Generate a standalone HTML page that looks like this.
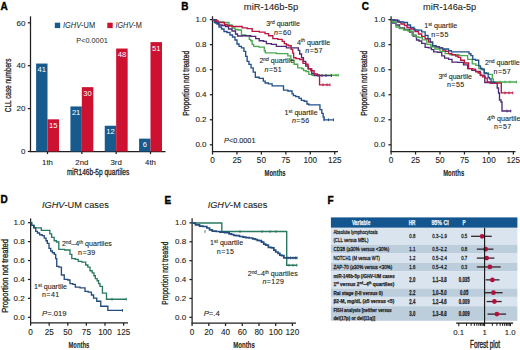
<!DOCTYPE html>
<html><head><meta charset="utf-8"><style>
html,body{margin:0;padding:0;background:#fff;width:520px;height:350px;overflow:hidden}
svg{display:block;font-family:"Liberation Sans", sans-serif}
text:not([stroke])[fill="#231f20"]{stroke:#231f20;stroke-width:0.1px}
</style></head><body>
<svg width="520" height="350" viewBox="0 0 520 350">
<text x="0.5" y="9.8" font-size="10" font-weight="bold" fill="#000" stroke="#000" stroke-width="0.35">A</text>
<line x1="30.5" y1="16.3" x2="30.5" y2="152.0" stroke="#231f20" stroke-width="1.25"/>
<line x1="30.0" y1="151.5" x2="165.5" y2="151.5" stroke="#231f20" stroke-width="1.25"/>
<line x1="27.8" y1="151.5" x2="30.5" y2="151.5" stroke="#231f20" stroke-width="1.25"/>
<text x="25.5" y="154.2" font-size="8" text-anchor="end" fill="#231f20">0</text>
<line x1="27.8" y1="108.6" x2="30.5" y2="108.6" stroke="#231f20" stroke-width="1.25"/>
<text x="25.5" y="111.3" font-size="8" text-anchor="end" fill="#231f20">20</text>
<line x1="27.8" y1="65.7" x2="30.5" y2="65.7" stroke="#231f20" stroke-width="1.25"/>
<text x="25.5" y="68.4" font-size="8" text-anchor="end" fill="#231f20">40</text>
<line x1="27.8" y1="22.80" x2="30.5" y2="22.80" stroke="#231f20" stroke-width="1.25"/>
<text x="25.5" y="25.50" font-size="8" text-anchor="end" fill="#231f20">60</text>
<rect x="36.1" y="63.55" width="11.4" height="87.94" fill="#175a8e"/>
<rect x="47.5" y="119.32" width="11.5" height="32.17" fill="#cc1131"/>
<text x="41.80" y="72.25" font-size="7.6" text-anchor="middle" fill="#fff">41</text>
<text x="53.25" y="128.02" font-size="7.6" text-anchor="middle" fill="#fff">15</text>
<line x1="47.5" y1="151.5" x2="47.5" y2="154.1" stroke="#231f20" stroke-width="1.25"/>
<text x="47.5" y="164.8" font-size="7.8" text-anchor="middle" fill="#231f20">1th</text>
<rect x="70.42" y="106.45" width="11.4" height="45.04" fill="#175a8e"/>
<rect x="81.83" y="87.15" width="11.5" height="64.35" fill="#cc1131"/>
<text x="76.13" y="115.15" font-size="7.6" text-anchor="middle" fill="#fff">21</text>
<text x="87.58" y="95.85" font-size="7.6" text-anchor="middle" fill="#fff">30</text>
<line x1="81.83" y1="151.5" x2="81.83" y2="154.1" stroke="#231f20" stroke-width="1.25"/>
<text x="81.83" y="164.8" font-size="7.8" text-anchor="middle" fill="#231f20">2nd</text>
<rect x="104.75" y="125.75" width="11.4" height="25.74" fill="#175a8e"/>
<rect x="116.16" y="48.53" width="11.5" height="102.96" fill="#cc1131"/>
<text x="110.46" y="134.45" font-size="7.6" text-anchor="middle" fill="#fff">12</text>
<text x="121.91" y="57.23" font-size="7.6" text-anchor="middle" fill="#fff">48</text>
<line x1="116.16" y1="151.5" x2="116.16" y2="154.1" stroke="#231f20" stroke-width="1.25"/>
<text x="116.16" y="164.8" font-size="7.8" text-anchor="middle" fill="#231f20">3rd</text>
<rect x="139.09" y="138.63" width="11.4" height="12.87" fill="#175a8e"/>
<rect x="150.49" y="42.10" width="11.5" height="109.39" fill="#cc1131"/>
<text x="144.79" y="147.32" font-size="7.6" text-anchor="middle" fill="#fff">6</text>
<text x="156.24" y="50.80" font-size="7.6" text-anchor="middle" fill="#fff">51</text>
<line x1="150.49" y1="151.5" x2="150.49" y2="154.1" stroke="#231f20" stroke-width="1.25"/>
<text x="150.49" y="164.8" font-size="7.8" text-anchor="middle" fill="#231f20">4th</text>
<text x="66.9" y="175.4" font-size="8.8" textLength="62.4" lengthAdjust="spacingAndGlyphs" fill="#231f20" stroke="#231f20" stroke-width="0.3">miR146b-5p quartiles</text>
<text transform="translate(11.3,85.4) rotate(-90)" font-size="9.2" text-anchor="middle" stroke="#231f20" stroke-width="0.3" textLength="53.5" lengthAdjust="spacingAndGlyphs" fill="#231f20">CLL case numbers</text>
<rect x="54.8" y="22.7" width="5.4" height="5.4" fill="#175a8e"/>
<text x="62.9" y="28.3" stroke="none" font-size="8.4" textLength="32.3" lengthAdjust="spacingAndGlyphs" fill="#231f20"><tspan font-style="italic">IGHV</tspan>-UM</text>
<rect x="107.3" y="22.7" width="5.4" height="5.4" fill="#cc1131"/>
<text x="115.4" y="28.3" stroke="none" font-size="8.4" textLength="26.4" lengthAdjust="spacingAndGlyphs" fill="#231f20"><tspan font-style="italic">IGHV</tspan>-M</text>
<text x="76.3" y="42.8" font-size="7.6" textLength="31.5" lengthAdjust="spacingAndGlyphs" fill="#231f20" stroke="none">P&lt;0.0001</text>
<text x="181.3" y="9.8" font-size="10" font-weight="bold" fill="#000" stroke="#000" stroke-width="0.35">B</text>
<text x="243.8" y="10.2" font-size="9.2" textLength="54.4" lengthAdjust="spacingAndGlyphs" fill="#231f20">miR-146b-5p</text>
<line x1="212.5" y1="16.2" x2="212.5" y2="152.1" stroke="#231f20" stroke-width="1.25"/>
<line x1="212.0" y1="151.6" x2="338" y2="151.6" stroke="#231f20" stroke-width="1.25"/>
<line x1="209.8" y1="19.6" x2="212.5" y2="19.6" stroke="#231f20" stroke-width="1.25"/>
<text x="206.5" y="21.90" font-size="8" text-anchor="end" fill="#231f20">1.0</text>
<line x1="209.8" y1="44.64" x2="212.5" y2="44.64" stroke="#231f20" stroke-width="1.25"/>
<text x="206.5" y="46.94" font-size="8" text-anchor="end" fill="#231f20">0.8</text>
<line x1="209.8" y1="69.68" x2="212.5" y2="69.68" stroke="#231f20" stroke-width="1.25"/>
<text x="206.5" y="71.98" font-size="8" text-anchor="end" fill="#231f20">0.6</text>
<line x1="209.8" y1="94.72" x2="212.5" y2="94.72" stroke="#231f20" stroke-width="1.25"/>
<text x="206.5" y="97.02" font-size="8" text-anchor="end" fill="#231f20">0.4</text>
<line x1="209.8" y1="119.76" x2="212.5" y2="119.76" stroke="#231f20" stroke-width="1.25"/>
<text x="206.5" y="122.06" font-size="8" text-anchor="end" fill="#231f20">0.2</text>
<line x1="209.8" y1="144.8" x2="212.5" y2="144.8" stroke="#231f20" stroke-width="1.25"/>
<text x="206.5" y="147.10" font-size="8" text-anchor="end" fill="#231f20">0.0</text>
<line x1="212.5" y1="151.6" x2="212.5" y2="154.5" stroke="#231f20" stroke-width="1.25"/>
<text x="212.5" y="163.3" font-size="8.2" text-anchor="middle" fill="#231f20">0</text>
<line x1="236.95" y1="151.6" x2="236.95" y2="154.5" stroke="#231f20" stroke-width="1.25"/>
<text x="236.95" y="163.3" font-size="8.2" text-anchor="middle" fill="#231f20">25</text>
<line x1="261.4" y1="151.6" x2="261.4" y2="154.5" stroke="#231f20" stroke-width="1.25"/>
<text x="261.4" y="163.3" font-size="8.2" text-anchor="middle" fill="#231f20">50</text>
<line x1="285.85" y1="151.6" x2="285.85" y2="154.5" stroke="#231f20" stroke-width="1.25"/>
<text x="285.85" y="163.3" font-size="8.2" text-anchor="middle" fill="#231f20">75</text>
<line x1="310.3" y1="151.6" x2="310.3" y2="154.5" stroke="#231f20" stroke-width="1.25"/>
<text x="310.3" y="163.3" font-size="8.2" text-anchor="middle" fill="#231f20">100</text>
<line x1="334.75" y1="151.6" x2="334.75" y2="154.5" stroke="#231f20" stroke-width="1.25"/>
<text x="334.75" y="163.3" font-size="8.2" text-anchor="middle" fill="#231f20">125</text>
<text transform="translate(188.6,83.3) rotate(-90)" font-size="8.6" text-anchor="middle" textLength="65" lengthAdjust="spacingAndGlyphs" fill="#231f20" stroke="#231f20" stroke-width="0.3">Proportion not treated</text>
<text x="264.6" y="176.3" font-size="9.3" font-weight="bold" textLength="21" lengthAdjust="spacingAndGlyphs" fill="#231f20">Months</text>
<path d="M212.5,19.6 H215.75 V22 H219 H223.5 V22.5 H228 H229.0 V25 H230 H232.0 V28 H234 H235.0 V29.5 H236 H238.0 V30 H240 H241.45 V35 H242.9 H245.75 V35.7 H248.6 H249.3 V39.3 H250 H250.7 V40.7 H251.4 H252.15 V44.3 H252.9 H253.6 V46.4 H254.3 H258.95 V47.1 H263.6 H264.3 V50.7 H265 H265.35 V52.9 H265.7 H276.4 V53.6 H287.1 H287.85 V55.9 H288.6 H290.9 V60.5 H293.2 H294.15 V64.2 H295.1 H297.75 V67.8 H300.4 H301.8 V68.7 H303.2 H303.65 V70.6 H304.1 H306.0 V71.5 H307.9 H308.8 V74.3 H309.7 H312.05 V75.2 H314.4 H326.45 V75.2 H338.5" fill="none" stroke="#49aa50" stroke-width="1.35" stroke-linejoin="miter"/>
<path d="M212.5,19.6 H214.25 V22 H216 H217.0 V24 H218 H219.0 V25 H220 H222.0 V25.5 H224 H225.5 V26.5 H227 H228.5 V29 H230 H232.0 V31 H234 H235.5 V34 H237 H237.5 V36 H238 H242.55 V35.7 H247.1 H250.7 V36.4 H254.3 H255.7 V38.6 H257.1 H259.25 V40.7 H261.4 H263.55 V41.4 H265.7 H266.4 V43.6 H267.1 H271.4 V44.3 H275.7 H276.4 V46.4 H277.1 H281.4 V46.4 H285.7 H286.4 V47.9 H287.1 H292.5 V47.9 H297.9 H298.35 V50.3 H298.8 H299.7 V54 H300.6 H301.55 V57.7 H302.5 H303.45 V61.4 H304.4 H305.75 V66.1 H307.1 H308.5 V68.9 H309.9 H311.75 V73.5 H313.6 H314.55 V75.6 H315.5 H323.75 V75.6 H332" fill="none" stroke="#4e2a76" stroke-width="1.35" stroke-linejoin="miter"/>
<path d="M212.5,19.6 H214.25 V19.6 H216 H216.75 V21 H217.5 H218.25 V22.5 H219 H221.0 V22.5 H223 H224.5 V24.5 H226 H227.25 V25.5 H228.5 H229.25 V26 H230 H232.5 V26.5 H235 H237.5 V26.5 H240 H242.15 V27.9 H244.3 H247.15 V28.6 H250 H252.15 V31.4 H254.3 H259.3 V32.1 H264.3 H265.0 V33.6 H265.7 H268.55 V35.7 H271.4 H272.85 V38.6 H274.3 H277.85 V39.3 H281.4 H282.15 V41.4 H282.9 H284.3 V43.6 H285.7 H286.4 V45 H287.1 H288.55 V45.7 H290 H291.15 V49.4 H292.3 H292.75 V53.1 H293.2 H293.65 V57.7 H294.1 H296.0 V58.6 H297.9 H299.75 V59.6 H301.6 H303.0 V63.3 H304.4 H305.75 V64.2 H307.1 H308.05 V68.9 H309 H310.85 V70.7 H312.7 H314.1 V74 H315.5 H317.35 V75 H319.2 H319.55 V84.8 H319.9 H325.0 V84.8 H330.1" fill="none" stroke="#bb1640" stroke-width="1.35" stroke-linejoin="miter"/>
<path d="M212.5,19.6 H215.25 V23 H218 H219.0 V27 H220 H221.5 V29 H223 H224.0 V31.5 H225 H227.0 V32.5 H229 H230.0 V35 H231 H232.5 V37 H234 H235.0 V40 H236 H237.0 V44 H238 H239.0 V46.4 H240 H241.45 V47.9 H242.9 H243.95 V51.4 H245 H245.7 V56.4 H246.4 H247.15 V61.4 H247.9 H248.95 V64.3 H250 H251.05 V67.9 H252.1 H253.2 V72.1 H254.3 H255.35 V77.2 H256.4 H259.15 V78.4 H261.9 H263.3 V81.1 H264.7 H265.15 V83 H265.6 H268.4 V83.9 H271.2 H272.15 V85.8 H273.1 H277.75 V85.8 H282.4 H283.5 V90.1 H284.6 H287.85 V91 H291.1 H292.05 V93.8 H293 H293.45 V95.6 H293.9 H295.75 V96.6 H297.6 H299.0 V98.4 H300.4 H301.35 V100.3 H302.3 H304.15 V101.2 H306 H306.95 V104 H307.9 H308.8 V104.9 H309.7 H314.35 V104.9 H319 H319.95 V109.6 H320.9 H321.8 V113.3 H322.7 H323.15 V117 H323.6 H324.1 V119.8 H324.6 H329.25 V119.8 H333.9" fill="none" stroke="#23508a" stroke-width="1.35" stroke-linejoin="miter"/>
<line x1="324" y1="118.39" x2="324" y2="121.2" stroke="#23508a" stroke-width="0.9"/>
<line x1="328.5" y1="118.39" x2="328.5" y2="121.2" stroke="#23508a" stroke-width="0.9"/>
<line x1="333.5" y1="118.39" x2="333.5" y2="121.2" stroke="#23508a" stroke-width="0.9"/>
<line x1="326" y1="73.8" x2="326" y2="76.60" stroke="#49aa50" stroke-width="0.9"/>
<line x1="331" y1="73.8" x2="331" y2="76.60" stroke="#49aa50" stroke-width="0.9"/>
<line x1="336" y1="73.8" x2="336" y2="76.60" stroke="#49aa50" stroke-width="0.9"/>
<line x1="338.3" y1="73.8" x2="338.3" y2="76.60" stroke="#49aa50" stroke-width="0.9"/>
<line x1="318" y1="74.19" x2="318" y2="77.0" stroke="#4e2a76" stroke-width="0.9"/>
<line x1="322" y1="74.19" x2="322" y2="77.0" stroke="#4e2a76" stroke-width="0.9"/>
<line x1="326" y1="74.19" x2="326" y2="77.0" stroke="#4e2a76" stroke-width="0.9"/>
<line x1="331.5" y1="74.19" x2="331.5" y2="77.0" stroke="#4e2a76" stroke-width="0.9"/>
<line x1="323" y1="83.39" x2="323" y2="86.2" stroke="#bb1640" stroke-width="0.9"/>
<line x1="327" y1="83.39" x2="327" y2="86.2" stroke="#bb1640" stroke-width="0.9"/>
<line x1="330" y1="83.39" x2="330" y2="86.2" stroke="#bb1640" stroke-width="0.9"/>
<text x="266.3" y="26.2" font-size="7.1" fill="#231f20">3<tspan font-size="4.97" dy="-2.4">rd</tspan><tspan dy="2.4"> quartile</tspan></text>
<text x="274" y="35" font-size="7.1" textLength="17.2" lengthAdjust="spacing" fill="#231f20"><tspan font-style="italic">n</tspan>=60</text>
<text x="296.9" y="44.7" font-size="7.1" fill="#231f20">4<tspan font-size="4.97" dy="-2.4">th</tspan><tspan dy="2.4"> quartile</tspan></text>
<text x="305.3" y="53" font-size="7.1" textLength="17.2" lengthAdjust="spacing" fill="#231f20"><tspan font-style="italic">n</tspan>=57</text>
<text x="259.4" y="63" font-size="7.1" fill="#231f20">2<tspan font-size="4.97" dy="-2.4">nd</tspan><tspan dy="2.4"> quartile</tspan></text>
<text x="264.6" y="71.6" font-size="7.1" textLength="17.2" lengthAdjust="spacing" fill="#231f20"><tspan font-style="italic">n</tspan>=51</text>
<text x="284.6" y="115.1" font-size="7.1" fill="#231f20">1<tspan font-size="4.97" dy="-2.4">st</tspan><tspan dy="2.4"> quartile</tspan></text>
<text x="292" y="122.6" font-size="7.1" textLength="17.2" lengthAdjust="spacing" fill="#231f20"><tspan font-style="italic">n</tspan>=56</text>
<text x="224" y="143" font-size="7.3" fill="#231f20"><tspan font-style="italic">P</tspan>&lt;0.0001</text>
<text x="361.8" y="9.8" font-size="10" font-weight="bold" fill="#000" stroke="#000" stroke-width="0.35">C</text>
<text x="423.1" y="10.2" font-size="9.2" textLength="53.1" lengthAdjust="spacingAndGlyphs" fill="#231f20">miR-146a-5p</text>
<line x1="391.1" y1="16.2" x2="391.1" y2="152.1" stroke="#231f20" stroke-width="1.25"/>
<line x1="390.6" y1="151.6" x2="515.5" y2="151.6" stroke="#231f20" stroke-width="1.25"/>
<line x1="388.40" y1="19.6" x2="391.1" y2="19.6" stroke="#231f20" stroke-width="1.25"/>
<text x="385.1" y="21.90" font-size="8" text-anchor="end" fill="#231f20">1.0</text>
<line x1="388.40" y1="44.64" x2="391.1" y2="44.64" stroke="#231f20" stroke-width="1.25"/>
<text x="385.1" y="46.94" font-size="8" text-anchor="end" fill="#231f20">0.8</text>
<line x1="388.40" y1="69.68" x2="391.1" y2="69.68" stroke="#231f20" stroke-width="1.25"/>
<text x="385.1" y="71.98" font-size="8" text-anchor="end" fill="#231f20">0.6</text>
<line x1="388.40" y1="94.72" x2="391.1" y2="94.72" stroke="#231f20" stroke-width="1.25"/>
<text x="385.1" y="97.02" font-size="8" text-anchor="end" fill="#231f20">0.4</text>
<line x1="388.40" y1="119.76" x2="391.1" y2="119.76" stroke="#231f20" stroke-width="1.25"/>
<text x="385.1" y="122.06" font-size="8" text-anchor="end" fill="#231f20">0.2</text>
<line x1="388.40" y1="144.8" x2="391.1" y2="144.8" stroke="#231f20" stroke-width="1.25"/>
<text x="385.1" y="147.10" font-size="8" text-anchor="end" fill="#231f20">0.0</text>
<line x1="391.1" y1="151.6" x2="391.1" y2="154.5" stroke="#231f20" stroke-width="1.25"/>
<text x="391.1" y="163.3" font-size="8.2" text-anchor="middle" fill="#231f20">0</text>
<line x1="415.55" y1="151.6" x2="415.55" y2="154.5" stroke="#231f20" stroke-width="1.25"/>
<text x="415.55" y="163.3" font-size="8.2" text-anchor="middle" fill="#231f20">25</text>
<line x1="440.0" y1="151.6" x2="440.0" y2="154.5" stroke="#231f20" stroke-width="1.25"/>
<text x="440.0" y="163.3" font-size="8.2" text-anchor="middle" fill="#231f20">50</text>
<line x1="464.45" y1="151.6" x2="464.45" y2="154.5" stroke="#231f20" stroke-width="1.25"/>
<text x="464.45" y="163.3" font-size="8.2" text-anchor="middle" fill="#231f20">75</text>
<line x1="488.90" y1="151.6" x2="488.90" y2="154.5" stroke="#231f20" stroke-width="1.25"/>
<text x="488.90" y="163.3" font-size="8.2" text-anchor="middle" fill="#231f20">100</text>
<line x1="513.35" y1="151.6" x2="513.35" y2="154.5" stroke="#231f20" stroke-width="1.25"/>
<text x="513.35" y="163.3" font-size="8.2" text-anchor="middle" fill="#231f20">125</text>
<text transform="translate(367.3,83.3) rotate(-90)" font-size="8.6" text-anchor="middle" textLength="65" lengthAdjust="spacingAndGlyphs" fill="#231f20" stroke="#231f20" stroke-width="0.3">Proportion not treated</text>
<text x="443.2" y="176.3" font-size="9.3" font-weight="bold" textLength="21" lengthAdjust="spacingAndGlyphs" fill="#231f20">Months</text>
<path d="M391,19.6 H392.5 V23 H394 H396.0 V25 H398 H399.5 V28 H401 H404.5 V29.5 H408 H409.5 V32 H411 H413.0 V36 H415 H416.5 V40 H418 H419.0 V41 H420 H421.7 V43.3 H423.4 H425.15 V47.3 H426.9 H428.6 V47.9 H430.3 H431.45 V49.6 H432.6 H433.75 V51.9 H434.9 H437.75 V52.4 H440.6 H441.75 V55.9 H442.9 H444.6 V58.1 H446.3 H448.6 V59.3 H450.9 H452.0 V62.1 H453.1 H457.6 V62.3 H462.1 H463.5 V64.9 H464.9 H467.65 V68.6 H470.4 H471.8 V70.4 H473.2 H475.55 V71.4 H477.9 H480.2 V75.1 H482.5 H484.8 V82.5 H487.1 H491.75 V83 H496.4 H497.2 V88 H498 H498.5 V93 H499 H499.5 V100 H500 H501.0 V102 H502 H502.0 V111 H502 H506.5 V111 H511" fill="none" stroke="#4e2a76" stroke-width="1.35" stroke-linejoin="miter"/>
<path d="M391,19.6 H392.5 V22 H394 H396.0 V27 H398 H399.5 V28.5 H401 H403.5 V30 H406 H408.0 V31 H410 H412.0 V35 H414 H416.0 V37 H418 H419.0 V37.6 H420 H422.3 V39.9 H424.6 H426.85 V44.4 H429.1 H430.85 V46.7 H432.6 H434.85 V49 H437.1 H440.0 V51.3 H442.9 H445.15 V53.6 H447.4 H450.25 V54.7 H453.1 H459.0 V55.6 H464.9 H467.65 V59.3 H470.4 H472.25 V63.9 H474.1 H475.85 V65.3 H477.6 H478.85 V68.5 H480.1 H481.4 V69.8 H482.7 H484.0 V73 H485.3 H488.5 V74.3 H491.7 H492.35 V78.8 H493 H493.3 V82 H493.6 H505.2 V82 H516.8" fill="none" stroke="#49aa50" stroke-width="1.35" stroke-linejoin="miter"/>
<path d="M391,19.6 H393.5 V20 H396 H397.5 V22 H399 H401.0 V24 H403 H404.5 V25.5 H406 H407.0 V27.5 H408 H410.5 V29 H413 H415.0 V31.5 H417 H418.5 V34 H420 H421.7 V36.4 H423.4 H425.15 V38.7 H426.9 H428.6 V42.1 H430.3 H432.6 V45.6 H434.9 H436.0 V46.7 H437.1 H439.4 V47.9 H441.7 H442.85 V50.1 H444 H445.7 V51.3 H447.4 H448.55 V53.6 H449.7 H452.0 V54.7 H454.3 H455.65 V56 H457 H458.15 V57.4 H459.3 H460.7 V60.2 H462.1 H464.4 V63 H466.7 H468.55 V68.6 H470.4 H472.7 V69.1 H475 H475.65 V71.7 H476.3 H478.2 V73 H480.1 H480.75 V75.6 H481.4 H482.7 V76.9 H484 H485.3 V78.1 H486.6 H487.25 V82 H487.9 H489.8 V83 H491.7 H496.5 V83 H501.3 H501.3 V92.9 H501.3 H507.1 V92.9 H512.9" fill="none" stroke="#bb1640" stroke-width="1.35" stroke-linejoin="miter"/>
<path d="M391,19.6 H394.0 V20.5 H397 H399.0 V22 H401 H403.5 V22.5 H406 H407.5 V25 H409 H410.5 V27.5 H412 H414.0 V30 H416 H418.0 V30.1 H420 H421.7 V31.9 H423.4 H425.15 V35.3 H426.9 H428.0 V38.7 H429.1 H430.25 V42.1 H431.4 H432.55 V45.6 H433.7 H436.0 V46.7 H438.3 H439.45 V47.9 H440.6 H442.3 V49 H444 H445.7 V49 H447.4 H448.55 V50.7 H449.7 H451.4 V51.9 H453.1 H460.85 V51.9 H468.6 H469.05 V53.7 H469.5 H470.9 V55.6 H472.3 H472.75 V59.3 H473.2 H475.55 V60.2 H477.9 H478.7 V65.9 H479.5 H480.45 V68.5 H481.4 H482.7 V69.1 H484 H484.3 V73 H484.6 H486.25 V73.6 H487.9 H488.2 V77.5 H488.5 H489.45 V78.8 H490.4 H491.05 V82 H491.7 H493.85 V82.3 H496" fill="none" stroke="#23508a" stroke-width="1.35" stroke-linejoin="miter"/>
<line x1="500" y1="80.6" x2="500" y2="83.4" stroke="#49aa50" stroke-width="0.9"/>
<line x1="505" y1="80.6" x2="505" y2="83.4" stroke="#49aa50" stroke-width="0.9"/>
<line x1="510" y1="80.6" x2="510" y2="83.4" stroke="#49aa50" stroke-width="0.9"/>
<line x1="516.5" y1="80.6" x2="516.5" y2="83.4" stroke="#49aa50" stroke-width="0.9"/>
<line x1="505" y1="91.5" x2="505" y2="94.30" stroke="#bb1640" stroke-width="0.9"/>
<line x1="509" y1="91.5" x2="509" y2="94.30" stroke="#bb1640" stroke-width="0.9"/>
<line x1="512.8" y1="91.5" x2="512.8" y2="94.30" stroke="#bb1640" stroke-width="0.9"/>
<line x1="507" y1="109.6" x2="507" y2="112.4" stroke="#4e2a76" stroke-width="0.9"/>
<line x1="510.8" y1="109.6" x2="510.8" y2="112.4" stroke="#4e2a76" stroke-width="0.9"/>
<text x="424.2" y="28.3" font-size="7.1" fill="#231f20">1<tspan font-size="4.97" dy="-2.4">st</tspan><tspan dy="2.4"> quartile</tspan></text>
<text x="431.2" y="36.9" font-size="7.1" textLength="17.2" lengthAdjust="spacing" fill="#231f20"><tspan>n</tspan>=55</text>
<text x="485" y="65" font-size="7.1" fill="#231f20">2<tspan font-size="4.97" dy="-2.4">nd</tspan><tspan dy="2.4"> quartile</tspan></text>
<text x="493.6" y="73.6" font-size="7.1" textLength="17.2" lengthAdjust="spacing" fill="#231f20"><tspan>n</tspan>=57</text>
<text x="438.4" y="79" font-size="7.1" fill="#231f20">3<tspan font-size="4.97" dy="-2.4">rd</tspan><tspan dy="2.4"> quartile</tspan></text>
<text x="447" y="87" font-size="7.1" textLength="17.2" lengthAdjust="spacing" fill="#231f20"><tspan>n</tspan>=55</text>
<text x="487" y="121" font-size="7.1" fill="#231f20">4<tspan font-size="4.97" dy="-2.4">th</tspan><tspan dy="2.4"> quartile</tspan></text>
<text x="494" y="129" font-size="7.1" textLength="17.2" lengthAdjust="spacing" fill="#231f20"><tspan>n</tspan>=57</text>
<text x="0.5" y="203.3" font-size="10" font-weight="bold" fill="#000" stroke="#000" stroke-width="0.35">D</text>
<text x="41.9" y="208.2" font-size="9.2" textLength="66.9" lengthAdjust="spacingAndGlyphs" fill="#231f20"><tspan font-style="italic">IGHV</tspan>-UM cases</text>
<line x1="30.6" y1="218.4" x2="30.6" y2="323.3" stroke="#231f20" stroke-width="1.25"/>
<line x1="30.1" y1="322.8" x2="128" y2="322.8" stroke="#231f20" stroke-width="1.25"/>
<line x1="27.90" y1="222.7" x2="30.6" y2="222.7" stroke="#231f20" stroke-width="1.25"/>
<text x="24.6" y="225.0" font-size="8" text-anchor="end" fill="#231f20">1.0</text>
<line x1="27.90" y1="241.62" x2="30.6" y2="241.62" stroke="#231f20" stroke-width="1.25"/>
<text x="24.6" y="243.92" font-size="8" text-anchor="end" fill="#231f20">0.8</text>
<line x1="27.90" y1="260.54" x2="30.6" y2="260.54" stroke="#231f20" stroke-width="1.25"/>
<text x="24.6" y="262.84" font-size="8" text-anchor="end" fill="#231f20">0.6</text>
<line x1="27.90" y1="279.46" x2="30.6" y2="279.46" stroke="#231f20" stroke-width="1.25"/>
<text x="24.6" y="281.76" font-size="8" text-anchor="end" fill="#231f20">0.4</text>
<line x1="27.90" y1="298.38" x2="30.6" y2="298.38" stroke="#231f20" stroke-width="1.25"/>
<text x="24.6" y="300.68" font-size="8" text-anchor="end" fill="#231f20">0.2</text>
<line x1="27.90" y1="317.3" x2="30.6" y2="317.3" stroke="#231f20" stroke-width="1.25"/>
<text x="24.6" y="319.6" font-size="8" text-anchor="end" fill="#231f20">0.0</text>
<line x1="30.6" y1="322.8" x2="30.6" y2="325.7" stroke="#231f20" stroke-width="1.25"/>
<text x="30.6" y="335" font-size="8.2" text-anchor="middle" fill="#231f20">0</text>
<line x1="49.2" y1="322.8" x2="49.2" y2="325.7" stroke="#231f20" stroke-width="1.25"/>
<text x="49.2" y="335" font-size="8.2" text-anchor="middle" fill="#231f20">25</text>
<line x1="67.80" y1="322.8" x2="67.80" y2="325.7" stroke="#231f20" stroke-width="1.25"/>
<text x="67.80" y="335" font-size="8.2" text-anchor="middle" fill="#231f20">50</text>
<line x1="86.4" y1="322.8" x2="86.4" y2="325.7" stroke="#231f20" stroke-width="1.25"/>
<text x="86.4" y="335" font-size="8.2" text-anchor="middle" fill="#231f20">75</text>
<line x1="105.0" y1="322.8" x2="105.0" y2="325.7" stroke="#231f20" stroke-width="1.25"/>
<text x="105.0" y="335" font-size="8.2" text-anchor="middle" fill="#231f20">100</text>
<line x1="123.6" y1="322.8" x2="123.6" y2="325.7" stroke="#231f20" stroke-width="1.25"/>
<text x="123.6" y="335" font-size="8.2" text-anchor="middle" fill="#231f20">125</text>
<text transform="translate(7.6,275.9) rotate(-90)" font-size="8.6" text-anchor="middle" textLength="73.8" lengthAdjust="spacingAndGlyphs" fill="#231f20" stroke="#231f20" stroke-width="0.3">Proportion not treated</text>
<text x="68.5" y="347.7" font-size="9.3" font-weight="bold" textLength="20.7" lengthAdjust="spacingAndGlyphs" fill="#231f20">Months</text>
<path d="M30.6,222.7 H31.85 V225.3 H33.1 H34.4 V227.9 H35.7 H38.3 V227.9 H40.9 H41.3 V230.4 H41.7 H45.55 V230.4 H49.4 H49.85 V233.9 H50.3 H51.6 V237.3 H52.9 H54.15 V240.7 H55.4 H56.5 V242 H57.6 H58.8 V249.3 H60 H64.65 V250 H69.3 H70.0 V254.3 H70.7 H71.8 V258.6 H72.9 H75.4 V259.3 H77.9 H78.25 V261.4 H78.6 H81.8 V262.1 H85 H85.7 V265 H86.4 H87.85 V267.1 H89.3 H90.0 V270.7 H90.7 H92.15 V272.9 H93.6 H93.95 V275.7 H94.3 H95.35 V278.6 H96.4 H97.15 V280.7 H97.9 H98.6 V283.6 H99.3 H100.0 V286.4 H100.7 H102.45 V293.1 H104.2 H106.5 V299.2 H108.8 H117.65 V299.2 H126.5" fill="none" stroke="#2a7a62" stroke-width="1.35" stroke-linejoin="miter"/>
<path d="M30.6,222.7 H31.45 V225.3 H32.3 H33.6 V227.9 H34.9 H35.75 V231.3 H36.6 H37.45 V233 H38.3 H39.6 V234.7 H40.9 H42.15 V235.6 H43.4 H44.25 V238.1 H45.1 H46.0 V240.7 H46.9 H47.3 V243.3 H47.7 H49.0 V248.4 H50.3 H50.7 V251 H51.1 H52.4 V252.7 H53.7 H54.35 V254.3 H55 H55.7 V258.6 H56.4 H56.75 V266.4 H57.1 H58.9 V267.1 H60.7 H61.4 V275 H62.1 H64.25 V279.3 H66.4 H67.85 V280 H69.3 H70.0 V283.6 H70.7 H72.85 V284.3 H75 H75.35 V287.1 H75.7 H80.0 V287.9 H84.3 H85.0 V291.4 H85.7 H88.2 V292.1 H90.7 H91.4 V295 H92.1 H93.55 V298.1 H95 H96.75 V301.2 H98.5 H100.75 V306.2 H103 H107.85 V310.4 H112.7 H117.7 V310.4 H122.7" fill="none" stroke="#244c7e" stroke-width="1.35" stroke-linejoin="miter"/>
<line x1="112" y1="297.8" x2="112" y2="300.59" stroke="#2a7a62" stroke-width="0.9"/>
<line x1="126.3" y1="297.8" x2="126.3" y2="300.59" stroke="#2a7a62" stroke-width="0.9"/>
<line x1="122.5" y1="309.0" x2="122.5" y2="311.79" stroke="#244c7e" stroke-width="0.9"/>
<text x="61.9" y="246.3" font-size="7.1" fill="#231f20">2<tspan font-size="4.8" dy="-2.4">nd</tspan><tspan dy="2.4">–4</tspan><tspan font-size="4.8" dy="-2.4">th</tspan><tspan dy="2.4"> quartiles</tspan></text>
<text x="78.1" y="254.9" font-size="7.1" textLength="17.2" lengthAdjust="spacing" fill="#231f20">n=39</text>
<text x="34" y="289" font-size="7.1" fill="#231f20">1<tspan font-size="4.97" dy="-2.4">st</tspan><tspan dy="2.4"> quartile</tspan></text>
<text x="42" y="297" font-size="7.1" textLength="17.2" lengthAdjust="spacing" fill="#231f20"><tspan>n</tspan>=41</text>
<text x="42" y="315.6" font-size="7.6" textLength="24.6" lengthAdjust="spacingAndGlyphs" fill="#231f20"><tspan font-style="italic">P</tspan>=.019</text>
<text x="164.5" y="204" font-size="10" font-weight="bold" fill="#000" stroke="#000" stroke-width="0.35">E</text>
<text x="207.7" y="208.2" font-size="9.2" textLength="59.6" lengthAdjust="spacingAndGlyphs" fill="#231f20"><tspan font-style="italic">IGHV</tspan>-M cases</text>
<line x1="192.1" y1="218.2" x2="192.1" y2="323.6" stroke="#231f20" stroke-width="1.25"/>
<line x1="191.6" y1="323.1" x2="296" y2="323.1" stroke="#231f20" stroke-width="1.25"/>
<line x1="189.4" y1="222.9" x2="192.1" y2="222.9" stroke="#231f20" stroke-width="1.25"/>
<text x="186.1" y="225.20" font-size="8" text-anchor="end" fill="#231f20">1.0</text>
<line x1="189.4" y1="241.78" x2="192.1" y2="241.78" stroke="#231f20" stroke-width="1.25"/>
<text x="186.1" y="244.08" font-size="8" text-anchor="end" fill="#231f20">0.8</text>
<line x1="189.4" y1="260.66" x2="192.1" y2="260.66" stroke="#231f20" stroke-width="1.25"/>
<text x="186.1" y="262.96" font-size="8" text-anchor="end" fill="#231f20">0.6</text>
<line x1="189.4" y1="279.54" x2="192.1" y2="279.54" stroke="#231f20" stroke-width="1.25"/>
<text x="186.1" y="281.84" font-size="8" text-anchor="end" fill="#231f20">0.4</text>
<line x1="189.4" y1="298.42" x2="192.1" y2="298.42" stroke="#231f20" stroke-width="1.25"/>
<text x="186.1" y="300.72" font-size="8" text-anchor="end" fill="#231f20">0.2</text>
<line x1="189.4" y1="317.3" x2="192.1" y2="317.3" stroke="#231f20" stroke-width="1.25"/>
<text x="186.1" y="319.6" font-size="8" text-anchor="end" fill="#231f20">0.0</text>
<line x1="192.1" y1="323.1" x2="192.1" y2="326.0" stroke="#231f20" stroke-width="1.25"/>
<text x="192.1" y="335.2" font-size="8.2" text-anchor="middle" fill="#231f20">0</text>
<line x1="208.82" y1="323.1" x2="208.82" y2="326.0" stroke="#231f20" stroke-width="1.25"/>
<text x="208.82" y="335.2" font-size="8.2" text-anchor="middle" fill="#231f20">20</text>
<line x1="225.54" y1="323.1" x2="225.54" y2="326.0" stroke="#231f20" stroke-width="1.25"/>
<text x="225.54" y="335.2" font-size="8.2" text-anchor="middle" fill="#231f20">40</text>
<line x1="242.26" y1="323.1" x2="242.26" y2="326.0" stroke="#231f20" stroke-width="1.25"/>
<text x="242.26" y="335.2" font-size="8.2" text-anchor="middle" fill="#231f20">60</text>
<line x1="258.98" y1="323.1" x2="258.98" y2="326.0" stroke="#231f20" stroke-width="1.25"/>
<text x="258.98" y="335.2" font-size="8.2" text-anchor="middle" fill="#231f20">80</text>
<line x1="275.7" y1="323.1" x2="275.7" y2="326.0" stroke="#231f20" stroke-width="1.25"/>
<text x="275.7" y="335.2" font-size="8.2" text-anchor="middle" fill="#231f20">100</text>
<line x1="292.41" y1="323.1" x2="292.41" y2="326.0" stroke="#231f20" stroke-width="1.25"/>
<text x="292.41" y="335.2" font-size="8.2" text-anchor="middle" fill="#231f20">120</text>
<text transform="translate(168.4,273.2) rotate(-90)" font-size="8.6" text-anchor="middle" textLength="63" lengthAdjust="spacingAndGlyphs" fill="#231f20" stroke="#231f20" stroke-width="0.3">Proportion not treated</text>
<text x="233.3" y="348" font-size="9.3" font-weight="bold" textLength="21.5" lengthAdjust="spacingAndGlyphs" fill="#231f20">Months</text>
<path d="M192.1,223 L221.8,223 L221.8,231.5 L286.7,231.5 L286.7,265.2 L297.2,265.2" fill="none" stroke="#2a7a62" stroke-width="1.4" stroke-linejoin="miter"/>
<path d="M192.1,223.2 H195.45 V224.9 H198.8 H199.55 V226.1 H200.3 H203.0 V226.5 H205.7 H206.85 V228 H208 H209.55 V229.9 H211.1 H212.25 V231.1 H213.4 H216.1 V231.5 H218.8 H219.95 V232.2 H221.1 H224.55 V232.6 H228 H229.15 V233.8 H230.3 H231.45 V234.5 H232.6 H233.75 V235.3 H234.9 H236.05 V235.7 H237.2 H239.5 V236.5 H241.8 H243.0 V237.2 H244.2 H245.7 V237.6 H247.2 H249.15 V238 H251.1 H252.65 V238.8 H254.2 H255.35 V239.5 H256.5 H257.25 V240.3 H258 H259.15 V240.7 H260.3 H261.45 V242.2 H262.6 H263.75 V244.2 H264.9 H265.75 V245.1 H266.6 H268.4 V247.4 H270.2 H271.6 V247.9 H273 H273.9 V250.2 H274.8 H275.7 V252 H276.6 H278.0 V253.4 H279.4 H279.85 V255.2 H280.3 H281.65 V255.6 H283 H283.9 V257.9 H284.8 H291.0 V257.9 H297.2" fill="none" stroke="#244c7e" stroke-width="1.7" stroke-linejoin="miter"/>
<line x1="205" y1="230.1" x2="205" y2="232.9" stroke="#2a7a62" stroke-width="0.9"/>
<line x1="240" y1="230.1" x2="240" y2="232.9" stroke="#2a7a62" stroke-width="0.9"/>
<line x1="262" y1="230.1" x2="262" y2="232.9" stroke="#2a7a62" stroke-width="0.9"/>
<line x1="270" y1="230.1" x2="270" y2="232.9" stroke="#2a7a62" stroke-width="0.9"/>
<line x1="276" y1="230.1" x2="276" y2="232.9" stroke="#2a7a62" stroke-width="0.9"/>
<line x1="288" y1="256.5" x2="288" y2="259.29" stroke="#244c7e" stroke-width="0.9"/>
<line x1="290.5" y1="256.5" x2="290.5" y2="259.29" stroke="#244c7e" stroke-width="0.9"/>
<line x1="293" y1="256.5" x2="293" y2="259.29" stroke="#244c7e" stroke-width="0.9"/>
<line x1="295.5" y1="256.5" x2="295.5" y2="259.29" stroke="#244c7e" stroke-width="0.9"/>
<line x1="297" y1="256.5" x2="297" y2="259.29" stroke="#244c7e" stroke-width="0.9"/>
<line x1="289" y1="263.8" x2="289" y2="266.59" stroke="#2a7a62" stroke-width="0.9"/>
<line x1="293" y1="263.8" x2="293" y2="266.59" stroke="#2a7a62" stroke-width="0.9"/>
<line x1="296.8" y1="263.8" x2="296.8" y2="266.59" stroke="#2a7a62" stroke-width="0.9"/>
<text x="210.1" y="245.3" font-size="7.1" fill="#231f20">1<tspan font-size="4.97" dy="-2.4">st</tspan><tspan dy="2.4"> quartile</tspan></text>
<text x="216.8" y="253.9" font-size="7.1" textLength="17.2" lengthAdjust="spacing" fill="#231f20"><tspan>n</tspan>=15</text>
<text x="247.7" y="276" font-size="7.1" fill="#231f20">2<tspan font-size="4.8" dy="-2.4">nd</tspan><tspan dy="2.4">–4</tspan><tspan font-size="4.8" dy="-2.4">th</tspan><tspan dy="2.4"> quartiles</tspan></text>
<text x="262.4" y="283.6" font-size="7.1" textLength="21.6" lengthAdjust="spacing" fill="#231f20"><tspan font-style="italic">n</tspan>=129</text>
<text x="203.7" y="315.6" font-size="7.6" textLength="16.1" lengthAdjust="spacingAndGlyphs" fill="#231f20"><tspan font-style="italic">P</tspan>=.4</text>
<text x="327.5" y="203.5" font-size="10" font-weight="bold" fill="#000" stroke="#000" stroke-width="0.35">F</text>
<rect x="330.9" y="217.4" width="186.5" height="10.4" fill="#13568f"/>
<rect x="330.9" y="227.8" width="186.5" height="17.0" fill="#d9e4ef"/>
<rect x="330.9" y="244.8" width="186.5" height="8.69" fill="#bccddc"/>
<rect x="330.9" y="253.5" width="186.5" height="9.19" fill="#d9e4ef"/>
<rect x="330.9" y="262.7" width="186.5" height="8.5" fill="#bccddc"/>
<rect x="330.9" y="271.2" width="186.5" height="17.30" fill="#d9e4ef"/>
<rect x="330.9" y="288.5" width="186.5" height="8.39" fill="#bccddc"/>
<rect x="330.9" y="296.9" width="186.5" height="9.30" fill="#d9e4ef"/>
<rect x="330.9" y="306.2" width="186.5" height="14.60" fill="#bccddc"/>
<text x="333.4" y="234.1" font-size="5.6" fill="#1e1e1e" stroke="#1e1e1e" stroke-width="0.28" textLength="44.3" lengthAdjust="spacingAndGlyphs">Absolute lymphocytosis</text>
<text x="333.4" y="242.3" font-size="5.6" fill="#1e1e1e" stroke="#1e1e1e" stroke-width="0.28" textLength="35" lengthAdjust="spacingAndGlyphs">(CLL versus MBL)</text>
<text x="549.73" y="238.3" font-size="5.8" text-anchor="middle" fill="#1e1e1e" stroke="#1e1e1e" stroke-width="0.28" transform="scale(0.75,1)">0.8</text>
<text x="586.13" y="238.3" font-size="5.8" text-anchor="middle" fill="#1e1e1e" stroke="#1e1e1e" stroke-width="0.28" transform="scale(0.75,1)">0.3–1.9</text>
<text x="618.93" y="238.3" font-size="5.8" text-anchor="middle" fill="#1e1e1e" stroke="#1e1e1e" stroke-width="0.28" transform="scale(0.75,1)">0.5</text>
<line x1="471.10" y1="236.3" x2="491.79" y2="236.3" stroke="#33252b" stroke-width="1.3"/>
<circle cx="482.10" cy="236.3" r="2.4" fill="#b3113d"/>
<text x="333.4" y="251.1" font-size="5.6" fill="#1e1e1e" stroke="#1e1e1e" stroke-width="0.28" textLength="55.8" lengthAdjust="spacingAndGlyphs">CD38 (≥30% versus &lt;30%)</text>
<text x="549.73" y="251.2" font-size="5.8" text-anchor="middle" fill="#1e1e1e" stroke="#1e1e1e" stroke-width="0.28" transform="scale(0.75,1)">1.1</text>
<text x="586.13" y="251.2" font-size="5.8" text-anchor="middle" fill="#1e1e1e" stroke="#1e1e1e" stroke-width="0.28" transform="scale(0.75,1)">0.5–2.2</text>
<text x="618.93" y="251.2" font-size="5.8" text-anchor="middle" fill="#1e1e1e" stroke="#1e1e1e" stroke-width="0.28" transform="scale(0.75,1)">0.8</text>
<line x1="476.83" y1="249.15" x2="493.43" y2="249.15" stroke="#33252b" stroke-width="1.3"/>
<circle cx="485.67" cy="249.2" r="2.4" fill="#b3113d"/>
<text x="333.4" y="260.0" font-size="5.6" fill="#1e1e1e" stroke="#1e1e1e" stroke-width="0.28" textLength="46.5" lengthAdjust="spacingAndGlyphs">NOTCH1 (M versus WT)</text>
<text x="549.73" y="260.1" font-size="5.8" text-anchor="middle" fill="#1e1e1e" stroke="#1e1e1e" stroke-width="0.28" transform="scale(0.75,1)">1.2</text>
<text x="586.13" y="260.1" font-size="5.8" text-anchor="middle" fill="#1e1e1e" stroke="#1e1e1e" stroke-width="0.28" transform="scale(0.75,1)">0.5–2.4</text>
<text x="618.93" y="260.1" font-size="5.8" text-anchor="middle" fill="#1e1e1e" stroke="#1e1e1e" stroke-width="0.28" transform="scale(0.75,1)">0.7</text>
<line x1="476.83" y1="258.1" x2="494.40" y2="258.1" stroke="#33252b" stroke-width="1.3"/>
<circle cx="486.64" cy="258.1" r="2.4" fill="#b3113d"/>
<text x="333.4" y="268.8" font-size="5.6" fill="#1e1e1e" stroke="#1e1e1e" stroke-width="0.28" textLength="59" lengthAdjust="spacingAndGlyphs">ZAP-70 (≥30% versus &lt;30%)</text>
<text x="549.73" y="268.9" font-size="5.8" text-anchor="middle" fill="#1e1e1e" stroke="#1e1e1e" stroke-width="0.28" transform="scale(0.75,1)">1.6</text>
<text x="586.13" y="268.9" font-size="5.8" text-anchor="middle" fill="#1e1e1e" stroke="#1e1e1e" stroke-width="0.28" transform="scale(0.75,1)">0.5–4.2</text>
<text x="618.93" y="268.9" font-size="5.8" text-anchor="middle" fill="#1e1e1e" stroke="#1e1e1e" stroke-width="0.28" transform="scale(0.75,1)">0.3</text>
<line x1="476.83" y1="266.95" x2="500.67" y2="266.95" stroke="#33252b" stroke-width="1.3"/>
<circle cx="489.87" cy="266.9" r="2.4" fill="#b3113d"/>
<text x="333.4" y="277.7" font-size="5.6" font-weight="bold" fill="#1e1e1e" stroke="#1e1e1e" stroke-width="0.25" textLength="61.2" lengthAdjust="spacingAndGlyphs">miR-146b-5p (<tspan font-style="italic">IGHV</tspan>-UM cases</text>
<text x="333.4" y="285.9" font-size="5.6" font-weight="bold" fill="#1e1e1e" stroke="#1e1e1e" stroke-width="0.25" textLength="60.9" lengthAdjust="spacingAndGlyphs">1<tspan font-size="3.6" dy="-1.8">st</tspan><tspan dy="1.8"> versus 2</tspan><tspan font-size="3.6" dy="-1.8">nd</tspan><tspan dy="1.8">–4</tspan><tspan font-size="3.6" dy="-1.8">th</tspan><tspan dy="1.8"> quartiles)</tspan></text>
<text x="606.32" y="282.1" font-size="6.3" font-weight="bold" text-anchor="middle" fill="#1e1e1e" stroke="#1e1e1e" stroke-width="0.25" transform="scale(0.68,1)">2.0</text>
<text x="646.47" y="282.1" font-size="6.3" font-weight="bold" text-anchor="middle" fill="#1e1e1e" stroke="#1e1e1e" stroke-width="0.25" transform="scale(0.68,1)">1.1–3.8</text>
<text x="682.65" y="282.1" font-size="6.3" font-weight="bold" text-anchor="middle" fill="#1e1e1e" stroke="#1e1e1e" stroke-width="0.25" transform="scale(0.68,1)">0.035</text>
<line x1="485.66" y1="279.85" x2="499.55" y2="279.85" stroke="#33252b" stroke-width="1.3"/>
<circle cx="492.37" cy="279.9" r="2.4" fill="#b3113d"/>
<text x="333.4" y="294.6" font-size="5.6" font-weight="bold" fill="#1e1e1e" stroke="#1e1e1e" stroke-width="0.25" textLength="49.4" lengthAdjust="spacingAndGlyphs">Rai stage (I-II versus 0)</text>
<text x="606.32" y="294.9" font-size="6.3" font-weight="bold" text-anchor="middle" fill="#1e1e1e" stroke="#1e1e1e" stroke-width="0.25" transform="scale(0.68,1)">2.2</text>
<text x="646.47" y="294.9" font-size="6.3" font-weight="bold" text-anchor="middle" fill="#1e1e1e" stroke="#1e1e1e" stroke-width="0.25" transform="scale(0.68,1)">1.0–5.0</text>
<text x="682.65" y="294.9" font-size="6.3" font-weight="bold" text-anchor="middle" fill="#1e1e1e" stroke="#1e1e1e" stroke-width="0.25" transform="scale(0.68,1)">0.05</text>
<line x1="484.6" y1="292.7" x2="502.63" y2="292.7" stroke="#33252b" stroke-width="1.3"/>
<circle cx="493.43" cy="292.7" r="2.4" fill="#b3113d"/>
<text x="333.4" y="303.4" font-size="5.6" font-weight="bold" fill="#1e1e1e" stroke="#1e1e1e" stroke-width="0.25" textLength="60.9" lengthAdjust="spacingAndGlyphs">β2-M, mg/dL (≥5 versus &lt;5)</text>
<text x="606.32" y="303.7" font-size="6.3" font-weight="bold" text-anchor="middle" fill="#1e1e1e" stroke="#1e1e1e" stroke-width="0.25" transform="scale(0.68,1)">2.4</text>
<text x="646.47" y="303.7" font-size="6.3" font-weight="bold" text-anchor="middle" fill="#1e1e1e" stroke="#1e1e1e" stroke-width="0.25" transform="scale(0.68,1)">1.2–4.6</text>
<text x="682.65" y="303.7" font-size="6.3" font-weight="bold" text-anchor="middle" fill="#1e1e1e" stroke="#1e1e1e" stroke-width="0.25" transform="scale(0.68,1)">0.009</text>
<line x1="486.64" y1="301.54" x2="501.69" y2="301.54" stroke="#33252b" stroke-width="1.3"/>
<circle cx="494.41" cy="301.5" r="2.4" fill="#b3113d"/>
<text x="333.4" y="311.9" font-size="5.6" font-weight="bold" fill="#1e1e1e" stroke="#1e1e1e" stroke-width="0.25" textLength="58.2" lengthAdjust="spacingAndGlyphs">FISH analysis [neither versus</text>
<text x="333.4" y="320.1" font-size="5.6" font-weight="bold" fill="#1e1e1e" stroke="#1e1e1e" stroke-width="0.25" textLength="41.7" lengthAdjust="spacingAndGlyphs">del(17p) or del(11q)]</text>
<text x="606.32" y="316.3" font-size="6.3" font-weight="bold" text-anchor="middle" fill="#1e1e1e" stroke="#1e1e1e" stroke-width="0.25" transform="scale(0.68,1)">3.0</text>
<text x="646.47" y="316.3" font-size="6.3" font-weight="bold" text-anchor="middle" fill="#1e1e1e" stroke="#1e1e1e" stroke-width="0.25" transform="scale(0.68,1)">1.3–6.8</text>
<text x="682.65" y="316.3" font-size="6.3" font-weight="bold" text-anchor="middle" fill="#1e1e1e" stroke="#1e1e1e" stroke-width="0.25" transform="scale(0.68,1)">0.009</text>
<line x1="487.53" y1="314.1" x2="506.07" y2="314.1" stroke="#33252b" stroke-width="1.3"/>
<circle cx="496.91" cy="314.1" r="2.4" fill="#b3113d"/>
<text x="351.9" y="225.4" font-size="7.3" font-weight="bold" textLength="18.5" lengthAdjust="spacingAndGlyphs" fill="#eef3fb" stroke="#eef3fb" stroke-width="0.25">Variable</text>
<text x="408.7" y="225.4" font-size="7.3" font-weight="bold" textLength="6.7" lengthAdjust="spacingAndGlyphs" fill="#eef3fb" stroke="#eef3fb" stroke-width="0.25">HR</text>
<text x="431.4" y="225.4" font-size="7.3" font-weight="bold" textLength="17.3" lengthAdjust="spacingAndGlyphs" fill="#eef3fb" stroke="#eef3fb" stroke-width="0.25">95% CI</text>
<text x="462.5" y="225.4" font-size="7.3" font-weight="bold" textLength="3.1" lengthAdjust="spacingAndGlyphs" fill="#eef3fb" stroke="#eef3fb" stroke-width="0.25">P</text>
<line x1="484.6" y1="227.8" x2="484.6" y2="323.1" stroke="#111" stroke-width="1.1"/>
<line x1="456.2" y1="323.1" x2="513.1" y2="323.1" stroke="#111" stroke-width="1.4"/>
<line x1="458.8" y1="323.1" x2="458.8" y2="326.2" stroke="#111" stroke-width="1.0"/>
<line x1="466.56" y1="323.1" x2="466.56" y2="325.8" stroke="#111" stroke-width="1.0"/>
<line x1="471.10" y1="323.1" x2="471.10" y2="325.8" stroke="#111" stroke-width="1.0"/>
<line x1="474.33" y1="323.1" x2="474.33" y2="325.8" stroke="#111" stroke-width="1.0"/>
<line x1="476.83" y1="323.1" x2="476.83" y2="325.8" stroke="#111" stroke-width="1.0"/>
<line x1="478.87" y1="323.1" x2="478.87" y2="325.8" stroke="#111" stroke-width="1.0"/>
<line x1="480.60" y1="323.1" x2="480.60" y2="325.8" stroke="#111" stroke-width="1.0"/>
<line x1="482.09" y1="323.1" x2="482.09" y2="325.8" stroke="#111" stroke-width="1.0"/>
<line x1="483.41" y1="323.1" x2="483.41" y2="325.8" stroke="#111" stroke-width="1.0"/>
<line x1="484.6" y1="323.1" x2="484.6" y2="326.2" stroke="#111" stroke-width="1.0"/>
<line x1="492.36" y1="323.1" x2="492.36" y2="325.8" stroke="#111" stroke-width="1.0"/>
<line x1="496.90" y1="323.1" x2="496.90" y2="325.8" stroke="#111" stroke-width="1.0"/>
<line x1="500.13" y1="323.1" x2="500.13" y2="325.8" stroke="#111" stroke-width="1.0"/>
<line x1="502.63" y1="323.1" x2="502.63" y2="325.8" stroke="#111" stroke-width="1.0"/>
<line x1="504.67" y1="323.1" x2="504.67" y2="325.8" stroke="#111" stroke-width="1.0"/>
<line x1="506.40" y1="323.1" x2="506.40" y2="325.8" stroke="#111" stroke-width="1.0"/>
<line x1="507.89" y1="323.1" x2="507.89" y2="325.8" stroke="#111" stroke-width="1.0"/>
<line x1="509.21" y1="323.1" x2="509.21" y2="325.8" stroke="#111" stroke-width="1.0"/>
<line x1="510.40" y1="323.1" x2="510.40" y2="326.2" stroke="#111" stroke-width="1.0"/>
<text x="458.7" y="334.8" font-size="7.8" text-anchor="middle" fill="#231f20">0.1</text>
<text x="484.6" y="334.8" font-size="7.8" text-anchor="middle" fill="#231f20">1</text>
<text x="510.2" y="334.8" font-size="7.8" text-anchor="middle" fill="#231f20">1.0</text>
<text x="470" y="347.6" font-size="10.2" textLength="30" lengthAdjust="spacingAndGlyphs" fill="#231f20" stroke="#231f20" stroke-width="0.4">Forest plot</text>
</svg>
</body></html>
